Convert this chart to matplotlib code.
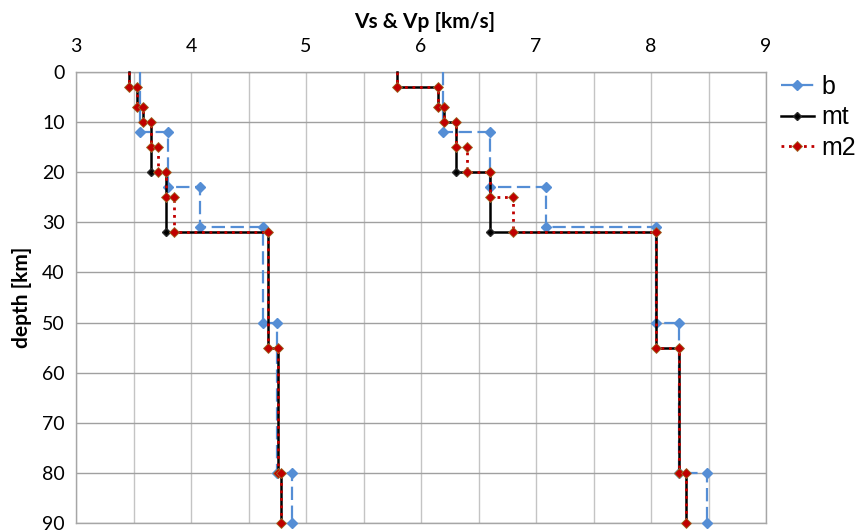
import matplotlib.pyplot as plt
import numpy as np
from matplotlib.lines import Line2D

plt.rcParams['font.family'] = ['Lato', 'DejaVu Sans']

# layer boundaries [km] and layer velocities [km/s]
b_depth = [0, 12, 23, 31, 50, 80, 90]
b_vs = [3.56, 3.80, 4.08, 4.63, 4.75, 4.88]
b_vp = [6.19, 6.60, 7.09, 8.04, 8.24, 8.49]

mt_depth = [0, 3, 7, 10, 20, 32, 55, 80, 90]
mt_vs = [3.46, 3.53, 3.58, 3.65, 3.78, 4.67, 4.76, 4.78]
mt_vp = [5.79, 6.15, 6.20, 6.30, 6.60, 8.04, 8.24, 8.30]

m2_depth = [0, 3, 7, 10, 15, 20, 25, 32, 55, 80, 90]
m2_vs = [3.46, 3.53, 3.58, 3.65, 3.71, 3.78, 3.85, 4.67, 4.76, 4.78]
m2_vp = [5.79, 6.15, 6.20, 6.30, 6.40, 6.60, 6.80, 8.04, 8.24, 8.30]

x_ticks = [3, 4, 5, 6, 7, 8, 9]
y_ticks = [0, 10, 20, 30, 40, 50, 60, 70, 80, 90]


def steps(depth, vel):
    # step profile: each layer drawn from its top to its bottom
    return np.repeat(vel, 2), np.repeat(depth, 2)[1:-1]


fig = plt.figure(figsize=(8.68, 5.32), dpi=100)
ax = fig.add_axes([76 / 868, 1 - 523 / 532, 690 / 868, 451 / 532])

styles = {
    'b': dict(color='#558ED5', lw=1.6, dashes=(6, 2.5), marker='D', ms=4.8,
              mfc='#558ED5', mec='#558ED5'),
    'mt': dict(color='black', lw=1.8, ls='-', marker='D', ms=4.0,
               mfc='black', mec='#2a2a2a'),
    'm2': dict(color='#C00000', lw=2.0, dashes=(1, 1.7), marker='D', ms=4.8,
               mfc='#C00000', mec='#A0702A', mew=0.6),
}
series = [('b', b_depth, b_vs, b_vp),
          ('mt', mt_depth, mt_vs, mt_vp),
          ('m2', m2_depth, m2_vs, m2_vp)]

for name, d, vs, vp in series:
    for v in (vs, vp):
        x, y = steps(d, v)
        ax.plot(x, y, markevery=slice(1, None), clip_on=False, zorder=3,
                **styles[name])

ax.set_xlim(3, 9)
ax.set_ylim(90, 0)
ax.xaxis.tick_top()
ax.set_xticks(x_ticks)
ax.set_xticks(np.arange(3, 9.01, 0.5), minor=True)
ax.set_yticks(y_ticks)
ax.tick_params(which='both', length=0)
ax.tick_params(axis='x', pad=12, labelsize=14)
ax.tick_params(axis='y', pad=8, labelsize=14)
ax.grid(axis='x', which='both', color='#C4C4C4', lw=1)
ax.grid(axis='y', which='major', color='#A0A0A0', lw=1)
ax.set_axisbelow(True)
for s in ax.spines.values():
    s.set_color('#A6A6A6')
    s.set_linewidth(1)

fig.text(425 / 868, 1 - 22 / 532, 'Vs & Vp [km/s]', ha='center', va='center',
         fontsize=15, fontweight='bold')
fig.text(22 / 868, 1 - 297 / 532, 'depth [km]', ha='center', va='center',
         rotation=90, fontsize=15, fontweight='bold')

handles = [Line2D([], [], **styles[n]) for n in ('b', 'mt', 'm2')]
ax.legend(handles, ['b', 'mt', 'm2'], loc='upper left',
          bbox_to_anchor=(781 / 868, 1 - 75 / 532), bbox_transform=fig.transFigure,
          frameon=False, borderpad=0, borderaxespad=0, handlelength=1.3,
          handletextpad=0.3, labelspacing=0.26,
          prop={'family': 'Liberation Sans', 'size': 18})

plt.savefig('out.png', dpi=100)
